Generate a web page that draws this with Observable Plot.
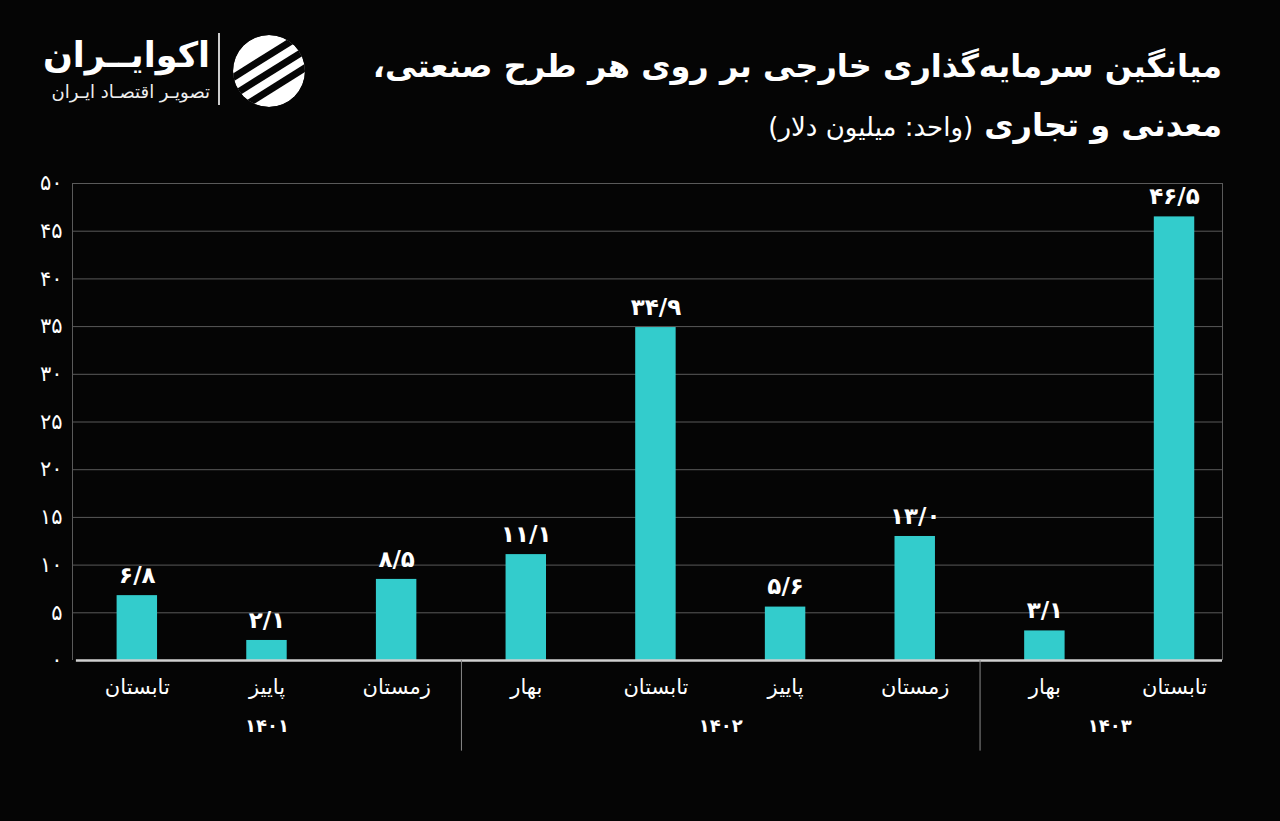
<!DOCTYPE html>
<html><head><meta charset="utf-8">
<script src="https://cdn.jsdelivr.net/npm/d3@7"></script>
<script src="https://cdn.jsdelivr.net/npm/@observablehq/plot@0.6"></script>
<style>
html,body{margin:0;padding:0;background:#050505;}
body{width:1280px;height:821px;overflow:hidden;font-family:"DejaVu Sans",sans-serif;color:#fff;}
#header{position:relative;height:160px;}
#title{position:absolute;right:58px;top:36px;direction:rtl;text-align:right;white-space:nowrap;}
#title .l1{font-size:32px;font-weight:bold;line-height:60px;}
#title .l2{font-size:32px;font-weight:bold;line-height:58px;}
#title .unit{font-size:26px;font-weight:normal;}
#brand{position:absolute;right:1070px;top:30px;direction:rtl;text-align:right;white-space:nowrap;}
#brand .name{font-size:35px;font-weight:bold;line-height:50px;}
#brand .tag{font-size:18px;line-height:24px;color:#eee;}
#sep{position:absolute;left:218px;top:33px;width:1.5px;height:72px;background:#ccc;}
#icon{position:absolute;left:230px;top:32px;}
#chart{position:relative;}
</style></head>
<body>
<div id="header">
  <div id="brand"><div class="name">اکوایــران</div><div class="tag">تصویـر اقتصـاد ایـران</div></div>
  <div id="sep"></div>
  <svg id="icon" width="78" height="78" viewBox="0 0 78 78">
    <defs><clipPath id="cc"><circle cx="39" cy="39" r="36"/></clipPath></defs>
    <g clip-path="url(#cc)">
      <circle cx="39" cy="39" r="36" fill="#fff"/>
      <g transform="rotate(-32 39 39)" fill="#050505">
        <rect x="-10" y="22" width="100" height="7"/>
        <rect x="-10" y="37" width="100" height="7"/>
        <rect x="-10" y="52" width="100" height="7"/>
      </g>
    </g>
  </svg>
  <div id="title">
    <div class="l1">میانگین سرمایه‌گذاری خارجی بر روی هر طرح صنعتی،</div>
    <div class="l2">معدنی و تجاری <span class="unit">(واحد: میلیون دلار)</span></div>
  </div>
</div>
<div id="chart"></div>
<script>
// ---- data ----
const seasons = ["تابستان","پاییز","زمستان","بهار","تابستان","پاییز","زمستان","بهار","تابستان"];
const years   = ["۱۴۰۱","۱۴۰۱","۱۴۰۱","۱۴۰۲","۱۴۰۲","۱۴۰۲","۱۴۰۲","۱۴۰۳","۱۴۰۳"];
const values  = [6.8, 2.1, 8.5, 11.1, 34.9, 5.6, 13.0, 3.1, 46.5];
const yTicks  = [0, 5, 10, 15, 20, 25, 30, 35, 40, 45, 50];
const yearNames = ["۱۴۰۱","۱۴۰۲","۱۴۰۳"];

const fa = s => String(s).replace(/\d/g, d => "۰۱۲۳۴۵۶۷۸۹"[d]).replace(".", "/");

const data = values.map((v, i) => ({i, v, season: seasons[i], year: years[i]}));
const groups = yearNames.map(y => {
  const idx = data.filter(d => d.year === y).map(d => d.i);
  return {year: y, mid: d3.mean(idx), start: d3.min(idx), end: d3.max(idx)};
});
const seps = groups.slice(1).map(g => g.start - 0.5);

const xLo = -0.5, xHi = 8.37, half = 0.156;

const chart = Plot.plot({
  width: 1280, height: 661,
  marginLeft: 72, marginRight: 58, marginTop: 23, marginBottom: 161,
  style: {background: "transparent", color: "#fff", fontFamily: "DejaVu Sans, sans-serif", fontSize: "17px", overflow: "visible"},
  x: {type: "linear", domain: [xLo, xHi], axis: null},
  y: {domain: [0, 50], axis: null},
  marks: [
    Plot.ruleY(yTicks.slice(1), {x1: xLo, x2: xHi, stroke: "#5a5a5a", strokeWidth: 1}),
    Plot.ruleX([xLo, xHi], {y1: 0, y2: 50, stroke: "#5a5a5a", strokeWidth: 1}),
    Plot.rectY(data, {x1: d => d.i - half, x2: d => d.i + half, y: "v", fill: "#33cccc"}),
    Plot.ruleY([0], {x1: xLo + 0.03, x2: xHi, stroke: "#d0d0d0", strokeWidth: 2.5}),
    Plot.text(data, {x: "i", y: "v", text: d => fa(d.v.toFixed(1)), dy: -20, fontSize: 23, fontWeight: "bold", fill: "#fff"}),
    Plot.text(data, {x: "i", y: 0, text: "season", dy: 27, fontSize: 21, fill: "#fff"}),
    Plot.ruleX(seps, {x: d => d, y1: 0, y2: -9.5, stroke: "#8a8a8a", strokeWidth: 1}),
    Plot.text(groups, {x: "mid", y: 0, text: "year", dy: 66, fontSize: 18, fontWeight: "bold", fill: "#fff"}),
    Plot.text(yTicks, {x: xLo, y: d => d, text: d => fa(d), textAnchor: "end", dx: -10, fontSize: 21, fill: "#fff"})
  ]
});
document.getElementById("chart").appendChild(chart);
</script>
</body></html>
